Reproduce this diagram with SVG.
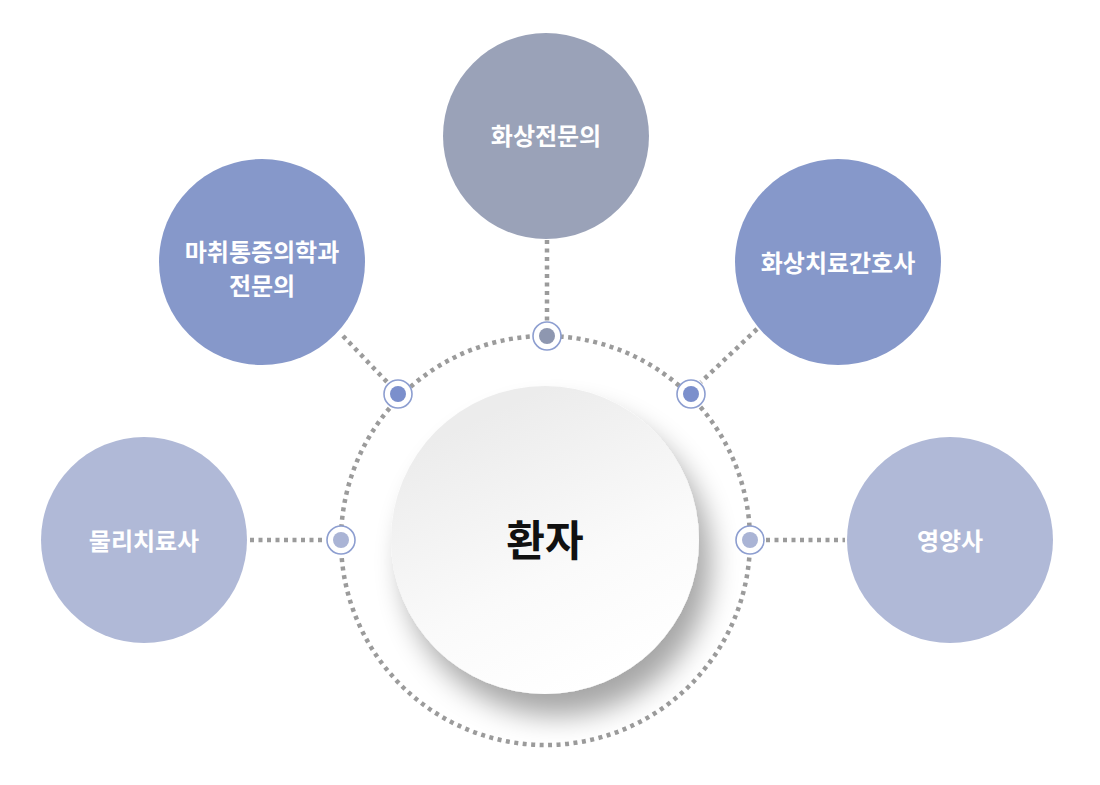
<svg xmlns="http://www.w3.org/2000/svg" width="1100" height="785" viewBox="0 0 1100 785">
<defs>
<linearGradient id="cg" x1="0.3" y1="0.1" x2="0.7" y2="0.95">
<stop offset="0" stop-color="#ececec"/><stop offset="0.6" stop-color="#fafafa"/><stop offset="1" stop-color="#ffffff"/>
</linearGradient>
<filter id="sh" x="-30%" y="-30%" width="160%" height="170%">
<feGaussianBlur in="SourceAlpha" stdDeviation="14"/>
<feOffset dx="12" dy="22"/>
<feComponentTransfer><feFuncA type="linear" slope="0.35"/></feComponentTransfer>
<feMerge><feMergeNode/><feMergeNode in="SourceGraphic"/></feMerge>
</filter>
</defs>
<style>
.dot{fill:none;stroke:#9b9b9b;stroke-width:4.5;stroke-dasharray:4 4.5}
.mk{fill:#fff;stroke:#8d9ed0;stroke-width:1.6}
.t{font-family:"Noto Sans CJK KR","Noto Sans",sans-serif;font-weight:700;fill:#fff;font-size:24px;text-anchor:middle}
</style>
<rect width="1100" height="785" fill="#fff"/>
<g id="connectors">
<circle class="dot" cx="545.5" cy="540.5" r="204.5"/>
<line class="dot" x1="547" y1="240" x2="547" y2="321"/>
<line class="dot" x1="343" y1="336" x2="387" y2="382"/>
<line class="dot" x1="757" y1="329" x2="701" y2="382"/>
<line class="dot" x1="250" y1="540" x2="326" y2="540"/>
<line class="dot" x1="766" y1="540" x2="845" y2="540"/>
</g>
<g id="markers">
<circle class="mk" cx="547" cy="336" r="14"/><circle cx="547" cy="336" r="8" fill="#8e97b0"/>
<circle class="mk" cx="398" cy="394" r="14"/><circle cx="398" cy="394" r="8" fill="#7b8fcc"/>
<circle class="mk" cx="691" cy="394" r="14"/><circle cx="691" cy="394" r="8" fill="#7b8fcc"/>
<circle class="mk" cx="341" cy="540" r="14"/><circle cx="341" cy="540" r="8" fill="#aab4d5"/>
<circle class="mk" cx="750" cy="540" r="14"/><circle cx="750" cy="540" r="8" fill="#aab4d5"/>
</g>
<g id="center">
<circle cx="545" cy="540" r="154" fill="url(#cg)" filter="url(#sh)"/>
<text x="545" y="556" font-family="'Noto Sans CJK KR',sans-serif" font-weight="700" font-size="42" text-anchor="middle" fill="#111">환자</text>
</g>
<g id="n1"><circle cx="546" cy="136" r="103" fill="#9aa2b8"/><text class="t" x="546" y="145">화상전문의</text></g>
<g id="n2"><circle cx="262" cy="262" r="103" fill="#8698ca"/><text class="t" x="262" y="261">마취통증의학과</text><text class="t" x="262" y="295">전문의</text></g>
<g id="n3"><circle cx="838" cy="262" r="103" fill="#8698ca"/><text class="t" x="838" y="272">화상치료간호사</text></g>
<g id="n4"><circle cx="144" cy="540" r="103" fill="#b0b9d7"/><text class="t" x="144" y="550">물리치료사</text></g>
<g id="n5"><circle cx="950" cy="540" r="103" fill="#b0b9d7"/><text class="t" x="950" y="550">영양사</text></g>
</svg>
